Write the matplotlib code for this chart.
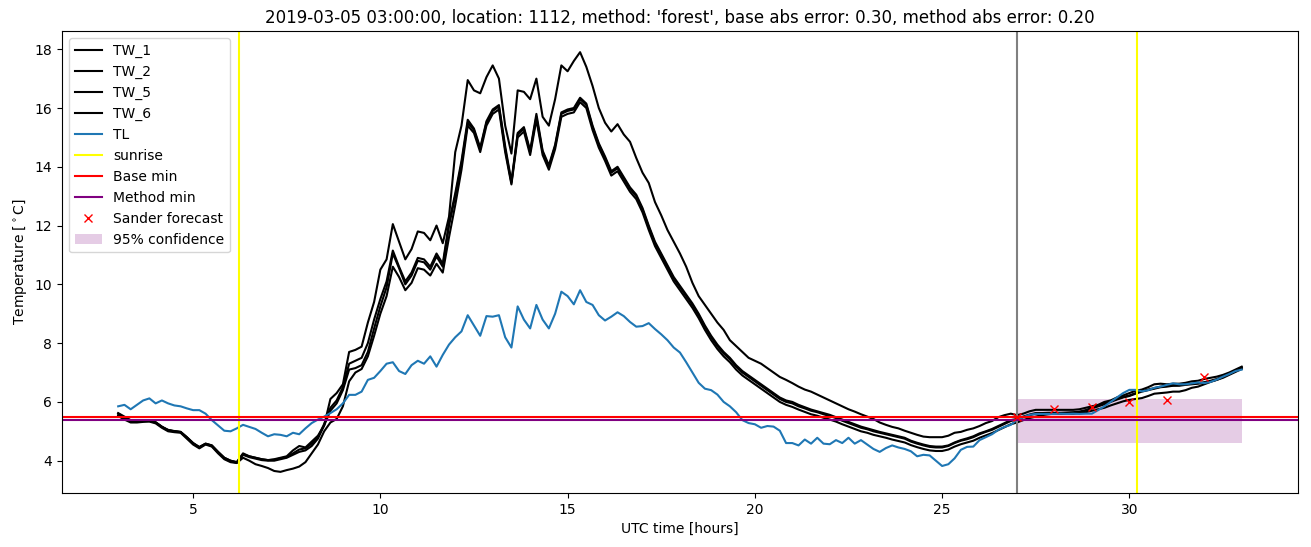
import numpy as np
import matplotlib
matplotlib.use("Agg")
import matplotlib.pyplot as plt

# 10-minute samples from 03:00 to 33:00 UTC
tw_1 = [
    5.62, 5.50, 5.38, 5.36, 5.36, 5.36,
    5.30, 5.15, 5.05, 5.00, 4.98, 4.80,
    4.60, 4.45, 4.58, 4.52, 4.30, 4.10,
    4.00, 3.95, 4.25, 4.15, 4.10, 4.05,
    4.02, 4.05, 4.10, 4.15, 4.35, 4.50,
    4.45, 4.65, 4.85, 5.20, 6.10, 6.30,
    6.60, 7.70, 7.77, 7.88, 8.70, 9.40,
    10.50, 10.85, 12.05, 11.45, 10.85, 11.20,
    11.80, 11.75, 11.50, 12.00, 11.40, 12.30,
    14.50, 15.40, 16.95, 16.60, 16.50, 17.05,
    17.45, 17.00, 15.40, 14.45, 16.60, 16.55,
    16.30, 17.00, 15.70, 15.40, 16.30, 17.45,
    17.25, 17.60, 17.90, 17.40, 16.75, 16.00,
    15.50, 15.20, 15.45, 15.10, 14.85, 14.30,
    13.80, 13.45, 12.80, 12.35, 11.85, 11.45,
    11.05, 10.60, 10.05, 9.60, 9.30, 9.00,
    8.70, 8.45, 8.10, 7.90, 7.70, 7.50,
    7.40, 7.30, 7.15, 7.00, 6.85, 6.75,
    6.64, 6.52, 6.42, 6.35, 6.25, 6.15,
    6.05, 5.95, 5.85, 5.75, 5.67, 5.58,
    5.50, 5.42, 5.30, 5.22, 5.15, 5.10,
    5.02, 4.95, 4.88, 4.82, 4.80, 4.80,
    4.80, 4.85, 4.95, 4.98, 5.05, 5.10,
    5.18, 5.28, 5.35, 5.48, 5.55, 5.60,
    5.55, 5.60, 5.68, 5.73, 5.73, 5.73,
    5.73, 5.73, 5.73, 5.73, 5.75, 5.80,
    5.85, 5.90, 6.00, 6.05, 6.15, 6.22,
    6.30, 6.38, 6.42, 6.50, 6.60, 6.62,
    6.60, 6.62, 6.62, 6.65, 6.70, 6.72,
    6.78, 6.82, 6.86, 6.92, 7.00, 7.10,
    7.20,
]

tw_2 = [
    5.55, 5.45, 5.33, 5.33, 5.35, 5.35,
    5.30, 5.15, 5.03, 5.00, 4.97, 4.78,
    4.58, 4.45, 4.57, 4.50, 4.28, 4.08,
    3.98, 3.93, 4.20, 4.12, 4.07, 4.02,
    4.00, 4.00, 4.05, 4.10, 4.20, 4.30,
    4.35, 4.50, 4.75, 5.20, 5.70, 5.95,
    6.40, 7.10, 7.15, 7.25, 7.70, 8.50,
    9.25, 9.90, 11.05, 10.55, 10.00, 10.30,
    10.80, 10.75, 10.50, 10.95, 10.60, 12.00,
    13.00, 14.10, 15.50, 15.25, 14.60, 15.50,
    15.90, 16.05, 14.60, 13.45, 15.10, 15.30,
    14.50, 15.70, 14.50, 14.00, 14.70, 15.80,
    15.90, 15.95, 16.30, 16.10, 15.35, 14.75,
    14.30, 13.80, 13.95, 13.60, 13.25, 13.00,
    12.55, 11.95, 11.40, 11.00, 10.60, 10.20,
    9.90, 9.60, 9.30, 8.95, 8.55, 8.20,
    7.90, 7.65, 7.45, 7.20, 7.00, 6.85,
    6.70, 6.55, 6.40, 6.25, 6.10, 6.00,
    5.95, 5.85, 5.78, 5.70, 5.65, 5.58,
    5.52, 5.45, 5.36, 5.28, 5.20, 5.12,
    5.07, 5.00, 4.95, 4.90, 4.85, 4.80,
    4.75, 4.65, 4.58, 4.52, 4.47, 4.45,
    4.45, 4.50, 4.60, 4.68, 4.73, 4.80,
    4.90, 4.98, 5.05, 5.15, 5.25, 5.35,
    5.40, 5.48, 5.55, 5.60, 5.60, 5.62,
    5.62, 5.62, 5.62, 5.63, 5.65, 5.70,
    5.78, 5.85, 5.92, 6.00, 6.08, 6.15,
    6.20, 6.28, 6.35, 6.40, 6.45, 6.50,
    6.52, 6.55, 6.55, 6.58, 6.60, 6.62,
    6.65, 6.70, 6.75, 6.85, 6.95, 7.05,
    7.15,
]

tw_5 = [
    5.60, 5.47, 5.35, 5.34, 5.36, 5.36,
    5.31, 5.16, 5.04, 5.01, 4.98, 4.80,
    4.60, 4.47, 4.58, 4.52, 4.30, 4.10,
    4.00, 3.95, 4.22, 4.15, 4.10, 4.05,
    4.02, 4.03, 4.08, 4.12, 4.25, 4.38,
    4.42, 4.58, 4.80, 5.25, 5.80, 6.05,
    6.50, 7.30, 7.40, 7.50, 8.00, 8.80,
    9.50, 10.10, 11.15, 10.60, 10.10, 10.40,
    10.90, 10.85, 10.60, 11.05, 10.70, 12.10,
    13.10, 14.20, 15.60, 15.30, 14.65, 15.55,
    15.95, 16.10, 14.70, 13.50, 15.15, 15.35,
    14.55, 15.80, 14.55, 14.05, 14.75, 15.85,
    15.95, 16.00, 16.35, 16.15, 15.40, 14.80,
    14.35, 13.85, 14.00, 13.65, 13.30, 13.05,
    12.60, 12.00, 11.45, 11.05, 10.65, 10.25,
    9.95, 9.65, 9.35, 9.00, 8.60, 8.25,
    7.95, 7.70, 7.50, 7.25, 7.05, 6.90,
    6.75, 6.60, 6.45, 6.30, 6.15, 6.05,
    6.00, 5.90, 5.82, 5.74, 5.68, 5.62,
    5.56, 5.48, 5.40, 5.32, 5.24, 5.16,
    5.10, 5.04, 4.98, 4.93, 4.88, 4.83,
    4.78, 4.68, 4.61, 4.55, 4.50, 4.48,
    4.48, 4.52, 4.62, 4.70, 4.76, 4.83,
    4.93, 5.00, 5.08, 5.18, 5.28, 5.38,
    5.42, 5.50, 5.57, 5.62, 5.62, 5.63,
    5.63, 5.63, 5.64, 5.65, 5.67, 5.72,
    5.80, 5.87, 5.95, 6.02, 6.10, 6.17,
    6.22, 6.30, 6.37, 6.42, 6.47, 6.52,
    6.54, 6.56, 6.57, 6.60, 6.62, 6.64,
    6.67, 6.72, 6.78, 6.87, 6.97, 7.07,
    7.17,
]

tw_6 = [
    5.52, 5.40, 5.30, 5.30, 5.32, 5.33,
    5.27, 5.12, 5.00, 4.97, 4.95, 4.75,
    4.55, 4.42, 4.55, 4.48, 4.25, 4.05,
    3.95, 3.92, 4.10, 4.00, 3.88, 3.82,
    3.75, 3.65, 3.62, 3.68, 3.73, 3.80,
    3.95, 4.25, 4.55, 5.00, 5.30, 5.42,
    5.85, 6.70, 7.00, 7.12, 7.55, 8.25,
    9.00, 9.60, 10.60, 10.25, 9.80, 10.05,
    10.55, 10.50, 10.30, 10.70, 10.40, 11.60,
    12.70, 13.90, 15.40, 15.15, 14.50, 15.40,
    15.80, 15.95, 14.50, 13.40, 15.00, 15.20,
    14.40, 15.60, 14.40, 13.90, 14.60, 15.70,
    15.80, 15.85, 16.20, 16.00, 15.25, 14.65,
    14.20, 13.70, 13.85, 13.50, 13.15, 12.90,
    12.45, 11.85, 11.30, 10.90, 10.50, 10.10,
    9.80, 9.50, 9.20, 8.85, 8.45, 8.10,
    7.80, 7.55, 7.35, 7.10, 6.90, 6.75,
    6.60, 6.45, 6.30, 6.15, 6.00, 5.90,
    5.83, 5.74, 5.66, 5.58, 5.53, 5.46,
    5.40, 5.33, 5.24, 5.16, 5.08, 5.00,
    4.95, 4.88, 4.83, 4.78, 4.72, 4.67,
    4.62, 4.53, 4.46, 4.40, 4.35, 4.33,
    4.33, 4.38, 4.48, 4.56, 4.62, 4.68,
    4.78, 4.86, 4.94, 5.04, 5.14, 5.24,
    5.30, 5.38, 5.45, 5.50, 5.55, 5.58,
    5.60, 5.60, 5.60, 5.60, 5.62, 5.65,
    5.70, 5.75, 5.80, 5.88, 5.95, 6.02,
    6.07, 6.10, 6.13, 6.20, 6.28, 6.30,
    6.32, 6.35, 6.35, 6.40, 6.48, 6.52,
    6.60, 6.68, 6.75, 6.82, 6.92, 7.02,
    7.12,
]

tl = [
    5.85, 5.90, 5.75, 5.90, 6.05, 6.12,
    5.95, 6.05, 5.95, 5.88, 5.85, 5.78,
    5.72, 5.72, 5.60, 5.38, 5.20, 5.02,
    5.00, 5.10, 5.22, 5.15, 5.08, 4.95,
    4.83, 4.90, 4.88, 4.83, 4.95, 4.90,
    5.10, 5.28, 5.40, 5.50, 5.62, 5.75,
    5.95, 6.24, 6.24, 6.35, 6.75, 6.82,
    7.05, 7.30, 7.35, 7.05, 6.95, 7.25,
    7.40, 7.30, 7.55, 7.20, 7.60, 7.95,
    8.20, 8.40, 8.95, 8.60, 8.25, 8.92,
    8.90, 8.95, 8.20, 7.85, 9.25, 8.80,
    8.50, 9.30, 8.80, 8.50, 9.00, 9.75,
    9.60, 9.32, 9.80, 9.40, 9.30, 8.95,
    8.77, 8.90, 9.05, 8.92, 8.72, 8.56,
    8.58, 8.68, 8.48, 8.30, 8.10, 7.85,
    7.68, 7.35, 7.00, 6.65, 6.45, 6.40,
    6.25, 6.00, 5.85, 5.65, 5.38, 5.28,
    5.24, 5.12, 5.18, 5.16, 5.02, 4.60,
    4.60, 4.52, 4.72, 4.58, 4.78, 4.58,
    4.56, 4.70, 4.60, 4.78, 4.58, 4.70,
    4.55, 4.40, 4.30, 4.43, 4.52, 4.45,
    4.40, 4.32, 4.15, 4.20, 4.18, 4.00,
    3.82, 3.88, 4.08, 4.37, 4.47, 4.48,
    4.70, 4.80, 4.90, 5.05, 5.15, 5.22,
    5.39, 5.48, 5.56, 5.59, 5.59, 5.59,
    5.59, 5.60, 5.59, 5.60, 5.59, 5.60,
    5.60, 5.72, 5.85, 6.00, 6.15, 6.30,
    6.41, 6.41, 6.36, 6.40, 6.48, 6.52,
    6.58, 6.63, 6.60, 6.60, 6.63, 6.66,
    6.64, 6.68, 6.76, 6.86, 6.95, 7.05,
    7.10,
]

hours = 3 + np.arange(len(tl)) / 6

sunrise = [6.22, 30.2]
forecast_time = 27
base_min = 5.5
method_min = 5.4

sander_hours = [27, 28, 29, 30, 31, 32]
sander_temp = [5.47, 5.75, 5.84, 5.99, 6.08, 6.86]

conf_hours = [27, 33]
conf_low = [4.6, 4.6]
conf_high = [6.1, 6.1]

fig, ax = plt.subplots(figsize=(13.11, 5.47), dpi=100)
fig.subplots_adjust(left=0.0473, right=0.990, top=0.943, bottom=0.099)

for name, vals in [('TW_1', tw_1), ('TW_2', tw_2), ('TW_5', tw_5), ('TW_6', tw_6)]:
    ax.plot(hours, vals, color='black', label=name)
ax.plot(hours, tl, color='C0', label='TL')

ax.axvline(sunrise[0], color='yellow', label='sunrise')
ax.axvline(sunrise[1], color='yellow')
ax.axvline(forecast_time, color='gray')
ax.axhline(base_min, color='red', label='Base min')
ax.axhline(method_min, color='purple', label='Method min')
ax.plot(sander_hours, sander_temp, 'x', color='red', label='Sander forecast')
ax.fill_between(conf_hours, conf_low, conf_high, color='purple', alpha=0.2,
                linewidth=0, label='95% confidence')

ax.set_title("2019-03-05 03:00:00, location: 1112, method: 'forest', "
             "base abs error: 0.30, method abs error: 0.20")
ax.set_xlabel('UTC time [hours]')
ax.set_ylabel(r'Temperature [$^\circ$C]')
ax.legend(loc='upper left')

fig.savefig('out.png', dpi=100)
